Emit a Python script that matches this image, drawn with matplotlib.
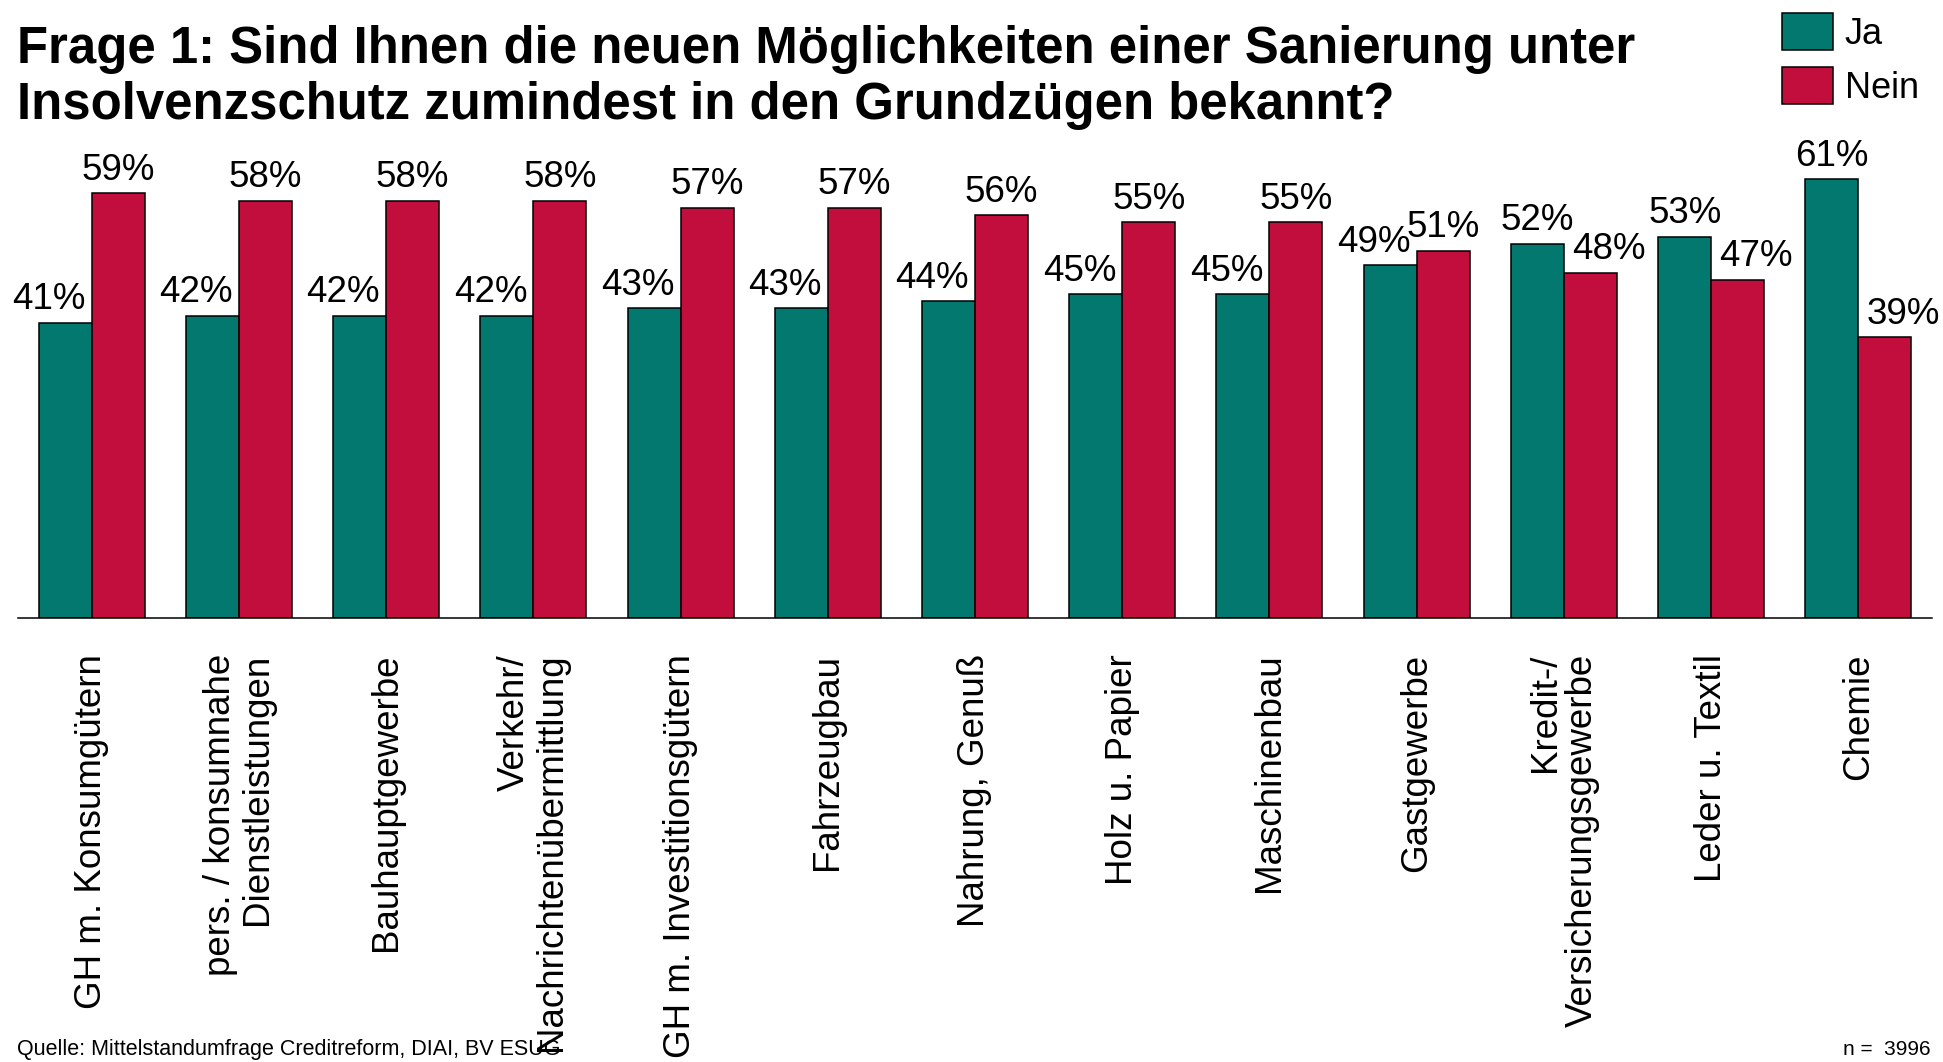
import numpy as np
import matplotlib
matplotlib.use("Agg")
import matplotlib.pyplot as plt

# data
branchen = [
    "GH m. Konsumgütern",
    "pers. / konsumnahe\nDienstleistungen",
    "Bauhauptgewerbe",
    "Verkehr/\nNachrichtenübermittlung",
    "GH m. Investitionsgütern",
    "Fahrzeugbau",
    "Nahrung, Genuß",
    "Holz u. Papier",
    "Maschinenbau",
    "Gastgewerbe",
    "Kredit-/\nVersicherungsgewerbe",
    "Leder u. Textil",
    "Chemie",
]
ja = [41, 42, 42, 42, 43, 43, 44, 45, 45, 49, 52, 53, 61]
nein = [59, 58, 58, 58, 57, 57, 56, 55, 55, 51, 48, 47, 39]

TEAL = "#02786F"
CRIMSON = "#C20E3C"
plt.rcParams["font.family"] = ["Liberation Sans", "DejaVu Sans"]

fig = plt.figure(figsize=(19.43, 10.62), dpi=100)
ax = fig.add_axes([18 / 1943, 1 - 617.7 / 1062, 1914 / 1943, 467.4 / 1062])

x = np.arange(len(branchen))
w = 0.36
b_ja = ax.bar(x - w / 2, ja, w, color=TEAL, edgecolor="black", linewidth=1.1, label="Ja")
b_nein = ax.bar(x + w / 2, nein, w, color=CRIMSON, edgecolor="black", linewidth=1.1, label="Nein")

# value labels: the lower bar's label moves away from its taller neighbour
for i in range(len(x)):
    if ja[i] < nein[i]:
        ax.annotate(f"{ja[i]}%", (x[i], ja[i]), xytext=(-4.3, 9.7), textcoords="offset points",
                    ha="right", va="baseline", fontsize=26.5)
    else:
        ax.annotate(f"{ja[i]}%", (x[i] - w / 2, ja[i]), xytext=(0, 9.7), textcoords="offset points",
                    ha="center", va="baseline", fontsize=26.5)
    if nein[i] < ja[i]:
        ax.annotate(f"{nein[i]}%", (x[i], nein[i]), xytext=(5.8, 9.7), textcoords="offset points",
                    ha="left", va="baseline", fontsize=26.5)
    else:
        ax.annotate(f"{nein[i]}%", (x[i] + w / 2, nein[i]), xytext=(0, 9.7), textcoords="offset points",
                    ha="center", va="baseline", fontsize=26.5)

ax.set_xlim(-0.5, len(x) - 0.5)
ax.set_ylim(0, 65)
ax.set_xticks(x)
ax.set_xticklabels(branchen, rotation=90, fontsize=26.5, va="top", ha="center",
                   multialignment="right", linespacing=1.08)
ax.tick_params(axis="x", length=0, pad=26)
ax.set_yticks([])
for s in ["top", "left", "right"]:
    ax.spines[s].set_visible(False)
ax.spines["bottom"].set_linewidth(1.1)

fig.text(17 / 1943, 1 - 25 / 1062,
         "Frage 1: Sind Ihnen die neuen Möglichkeiten einer Sanierung unter\n"
         "Insolvenzschutz zumindest in den Grundzügen bekannt?",
         fontweight="bold", fontsize=36.6, ha="left", va="top", linespacing=1.19)

fig.legend(handles=[b_ja, b_nein], loc="upper left", bbox_to_anchor=(1782 / 1943, 1 - 13 / 1062),
           frameon=False, fontsize=26, handlelength=1.41, handleheight=1.216,
           handletextpad=0.33, labelspacing=0.42, borderpad=0, borderaxespad=0)

fig.text(17 / 1943, 1 - 1055 / 1062, "Quelle: Mittelstandumfrage Creditreform, DIAI, BV ESUG",
         fontsize=15.5, ha="left", va="baseline")
fig.text(1931 / 1943, 1 - 1055 / 1062, "n =  3996",
         fontsize=15, ha="right", va="baseline")

fig.savefig("out.png", dpi=100)
